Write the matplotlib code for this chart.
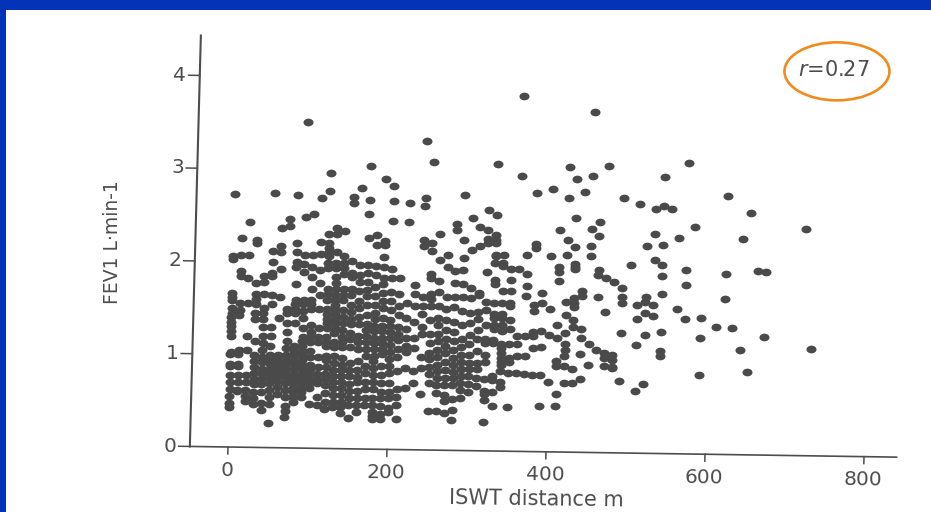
import matplotlib.pyplot as plt
from matplotlib.patches import Ellipse, Rectangle
from matplotlib.path import Path
from matplotlib.transforms import Affine2D

# ISWT distance (m) of each column of points, FEV1 values of the column below
iswt_steps = list(range(0, 600, 10)) + [610, 620, 630, 640, 650, 660, 670, 720, 730]
fev_by_step = [
    [2.73, 2.06, 2.03, 1.66, 1.62, 1.58, 1.5, 1.45, 1.4, 1.35, 1.3, 1.25, 1.2, 1.02, 1.0, 0.9, 0.87, 0.78, 0.7, 0.62, 0.55, 0.47, 0.43],
    [2.25, 2.07, 1.9, 1.85, 1.55, 1.48, 1.42, 1.05, 1.0, 0.9, 0.87, 0.78, 0.7, 0.62, 0.6],
    [2.43, 2.07, 1.83, 1.55, 1.2, 1.05, 0.78, 0.7, 0.62, 0.55, 0.5],
    [2.24, 2.2, 1.77, 1.65, 1.6, 1.55, 1.45, 1.38, 1.15, 1.0, 0.93, 0.87, 0.8, 0.74, 0.68, 0.6, 0.53, 0.47],
    [1.85, 1.78, 1.65, 1.5, 1.45, 1.38, 1.3, 1.2, 1.13, 1.05, 0.98, 0.92, 0.85, 0.8, 0.75, 0.68, 0.6, 0.48, 0.4],
    [2.74, 2.12, 2.0, 1.88, 1.85, 1.65, 1.55, 1.3, 1.2, 1.1, 1.0, 0.95, 0.9, 0.85, 0.8, 0.75, 0.7, 0.62, 0.55, 0.47, 0.27],
    [2.37, 2.18, 2.11, 1.93, 1.62, 1.4, 1.0, 0.95, 0.9, 0.87, 0.82, 0.77, 0.72, 0.65, 0.58],
    [2.47, 2.39, 1.5, 1.45, 1.35, 1.25, 1.15, 1.08, 1.0, 0.95, 0.9, 0.85, 0.8, 0.75, 0.7, 0.62, 0.55, 0.45, 0.4, 0.33],
    [2.73, 2.21, 2.11, 2.0, 1.95, 1.77, 1.6, 1.55, 1.5, 1.45, 1.35, 1.1, 1.05, 1.0, 0.95, 0.9, 0.85, 0.8, 0.75, 0.7, 0.65, 0.6, 0.55, 0.5],
    [3.52, 2.49, 2.08, 1.98, 1.9, 1.6, 1.55, 1.48, 1.4, 1.3, 1.2, 1.15, 1.1, 1.05, 1.0, 0.95, 0.9, 0.85, 0.8, 0.75, 0.7, 0.65, 0.6, 0.55],
    [2.53, 2.08, 1.95, 1.85, 1.72, 1.6, 1.55, 1.5, 1.33, 1.25, 1.2, 1.15, 1.05, 0.98, 0.9, 0.85, 0.8, 0.75, 0.7, 0.65, 0.48],
    [2.7, 2.22, 2.1, 1.92, 1.78, 1.65, 1.5, 1.3, 1.2, 1.15, 0.98, 0.88, 0.8, 0.75, 0.7, 0.55, 0.47],
    [2.97, 2.78, 2.31, 2.21, 2.16, 2.12, 2.07, 2.0, 1.95, 1.72, 1.66, 1.6, 1.5, 1.45, 1.4, 1.35, 1.3, 1.2, 1.15, 1.1, 1.0, 0.95, 0.88, 0.8, 0.75, 0.68, 0.6, 0.5, 0.43],
    [2.38, 2.31, 2.12, 2.0, 1.95, 1.85, 1.78, 1.72, 1.66, 1.6, 1.55, 1.5, 1.45, 1.4, 1.35, 1.3, 1.25, 1.15, 1.1, 1.0, 0.92, 0.85, 0.78, 0.72, 0.65, 0.58, 0.5, 0.45],
    [2.35, 2.08, 2.0, 1.95, 1.88, 1.72, 1.66, 1.6, 1.5, 1.42, 1.35, 1.28, 1.2, 1.15, 1.1, 0.98, 0.9, 0.85, 0.78, 0.72, 0.65, 0.58, 0.5, 0.45, 0.38],
    [2.71, 2.65, 2.02, 1.9, 1.85, 1.72, 1.66, 1.55, 1.48, 1.4, 1.35, 1.25, 1.18, 1.1, 0.92, 0.85, 0.78, 0.7, 0.62, 0.55, 0.47, 0.33],
    [2.81, 1.98, 1.88, 1.8, 1.7, 1.6, 1.52, 1.42, 1.35, 1.22, 1.15, 1.08, 0.95, 0.85, 0.78, 0.72, 0.62, 0.55, 0.47, 0.4],
    [3.05, 2.69, 2.53, 2.28, 1.98, 1.9, 1.8, 1.72, 1.65, 1.55, 1.45, 1.35, 1.28, 1.22, 1.15, 1.08, 1.0, 0.9, 0.82, 0.72, 0.65, 0.55, 0.47],
    [2.31, 2.2, 1.97, 1.88, 1.75, 1.65, 1.55, 1.47, 1.4, 1.33, 1.27, 1.2, 1.15, 1.08, 1.0, 0.95, 0.88, 0.8, 0.72, 0.65, 0.55, 0.48, 0.4, 0.36, 0.32],
    [2.91, 2.25, 2.2, 2.07, 1.97, 1.85, 1.78, 1.68, 1.6, 1.52, 1.42, 1.33, 1.27, 1.2, 1.15, 1.08, 1.03, 0.9, 0.8, 0.72, 0.62, 0.55, 0.47, 0.38, 0.33],
    [2.84, 2.68, 2.46, 1.95, 1.85, 1.7, 1.6, 1.5, 1.4, 1.33, 1.27, 1.2, 1.13, 1.05, 0.98, 0.9, 0.82, 0.72, 0.62, 0.55, 0.45, 0.4],
    [1.85, 1.68, 1.55, 1.45, 1.32, 1.25, 1.18, 1.08, 1.0, 0.85, 0.65, 0.57, 0.48, 0.33],
    [2.66, 2.45, 1.58, 1.42, 1.3, 1.2, 1.12, 1.05, 0.88, 0.67],
    [1.78, 1.68, 1.55, 1.38, 1.2, 1.1, 0.85, 0.72],
    [3.33, 2.72, 2.63, 2.26, 2.2, 1.65, 1.55, 1.47, 1.33, 1.25, 1.0, 0.88, 0.6],
    [3.11, 2.23, 2.15, 1.9, 1.85, 1.68, 1.63, 1.55, 1.4, 1.25, 1.15, 1.05, 0.98, 0.9, 0.82, 0.72, 0.42],
    [2.33, 2.05, 1.82, 1.7, 1.55, 1.43, 1.35, 1.25, 1.18, 1.08, 1.0, 0.92, 0.85, 0.78, 0.7, 0.62, 0.42],
    [2.1, 1.98, 1.65, 1.52, 1.4, 1.3, 1.2, 1.12, 1.05, 0.95, 0.87, 0.78, 0.7, 0.6, 0.53, 0.4],
    [2.44, 2.38, 1.93, 1.8, 1.65, 1.55, 1.38, 1.28, 1.18, 1.08, 1.0, 0.92, 0.85, 0.78, 0.7, 0.55, 0.43, 0.33],
    [2.75, 2.27, 2.08, 1.95, 1.8, 1.65, 1.5, 1.35, 1.2, 1.12, 1.03, 0.95, 0.88, 0.8, 0.73, 0.65, 0.57],
    [2.51, 2.16, 1.75, 1.65, 1.48, 1.38, 1.25, 1.15, 1.03, 0.95, 0.88, 0.8, 0.72, 0.63],
    [2.41, 2.21, 1.7, 1.68, 1.5, 1.42, 1.3, 1.2, 1.08, 0.95, 0.88, 0.78, 0.7],
    [2.6, 2.38, 2.28, 2.24, 1.93, 1.6, 1.52, 1.36, 1.21, 1.16, 1.03, 0.96, 0.77, 0.64, 0.61, 0.55, 0.31],
    [3.09, 2.54, 2.33, 2.28, 2.24, 2.11, 2.1, 2.03, 1.84, 1.8, 1.6, 1.48, 1.43, 1.36, 1.32, 1.2, 1.16, 0.81, 0.77, 0.64, 0.48],
    [2.11, 2.03, 2.0, 1.73, 1.6, 1.48, 1.43, 1.36, 1.29, 1.16, 1.11, 1.06, 1.0, 0.96, 0.93, 0.86, 0.74, 0.69],
    [1.97, 1.85, 1.73, 1.6, 1.57, 1.41, 1.32, 1.16, 1.0, 0.96, 0.84, 0.48],
    [3.83, 2.97, 1.97, 1.24, 1.16, 1.03, 0.84],
    [2.12, 1.91, 1.78, 1.68, 1.24, 1.03, 0.84],
    [2.79, 2.24, 2.19, 1.58, 1.52, 1.29, 1.25, 1.12, 0.83],
    [1.71, 1.6, 1.3, 1.13, 0.83, 0.49],
    [2.83, 2.11, 1.54, 1.26, 0.75],
    [2.39, 1.99, 1.94, 1.84, 1.37, 1.23, 0.98, 0.93, 0.63, 0.49],
    [3.07, 2.74, 2.29, 2.12, 1.62, 1.48, 1.28, 1.16, 1.1, 1.04, 0.93, 0.75],
    [2.94, 2.52, 2.21, 2.03, 2.0, 1.98, 1.66, 1.61, 1.56, 1.42, 1.35, 0.9, 0.75],
    [2.81, 1.74, 1.68, 1.33, 1.23, 1.06, 0.79],
    [3.67, 2.98, 2.41, 2.23, 2.12, 1.17, 0.94],
    [2.49, 2.33, 1.97, 1.91, 1.68, 1.11],
    [3.09, 1.88, 1.52, 1.07, 1.02, 0.93],
    [1.84, 1.05, 1.0, 0.93, 0.91],
    [2.75, 1.78, 1.68, 1.62, 1.29, 0.78],
    [2.03],
    [2.69, 1.6, 1.45, 1.17, 0.67],
    [2.23, 1.69, 1.63, 1.51, 1.27, 0.75],
    [2.63, 2.37, 2.08, 1.6, 1.48],
    [2.98, 2.67, 2.25, 2.03, 1.91, 1.72, 1.31, 1.11, 1.05],
    [2.64],
    [2.33, 1.56],
    [3.14, 1.98, 1.82, 1.45],
    [2.45],
    [1.47, 1.25, 0.85],
    [1.37],
    [2.79, 1.95, 1.68],
    [1.37],
    [2.33, 1.13],
    [2.61, 0.89],
    [1.98],
    [1.97, 1.27],
    [2.44],
    [1.15],
]
x_ticks = [0, 200, 400, 600, 800]
y_ticks = [0, 1, 2, 3, 4]

iswt = []
fev1 = []
for step, values in zip(iswt_steps, fev_by_step):
    iswt += [step] * len(values)
    fev1 += values

BLUE = "#0533b8"
INK = "#4a4a4a"
TEXT = "#4d4d4d"
ORANGE = "#f28a1c"

fig = plt.figure(figsize=(9.31, 5.12), dpi=100, facecolor=BLUE)
# zorder below the axes, or the white page hides them
fig.patches.append(Rectangle((6 / 931, 0), 925 / 931, 502 / 512, transform=fig.transFigure,
                             facecolor="white", edgecolor="none", zorder=-1))

# the axes cover the whole figure, the scanned page is slightly skewed
ax = fig.add_axes([0, 0, 1, 1])
ax.set_xlim(-228 / 0.795, 703 / 0.795)
ax.set_ylim(-65 / 92.75, 447 / 92.75)
ax.axis("off")
page = Affine2D.from_values(1, -0.00013, 3.13, 1, 0, 0) + ax.transData

# flattened dots, the slide stretched the scan sideways
dot = Path.unit_circle().transformed(Affine2D().scale(1, 0.77))
ax.scatter(iswt, fev1, s=52, marker=dot, color=INK, linewidths=0, transform=page, clip_on=False)

# axis lines and ticks
ax.plot([-48, 841], [0, 0], color=TEXT, lw=1.2, transform=page)
ax.plot([-48, -48], [0, 4.43], color=TEXT, lw=1.5, transform=page)
for t in x_ticks:
    ax.plot([t, t], [0, -0.075], color=TEXT, lw=1.1, transform=page)
    ax.text(t, -0.25, str(t), transform=page, ha="center", va="center", rotation=-0.8,
            fontsize=14.5, color=TEXT)
for t in y_ticks:
    ax.plot([-48, -62], [t, t], color=TEXT, lw=1.1, transform=page)
    ax.text(-65, t, str(t), transform=page, ha="right", va="center", fontsize=14.5, color=TEXT)

ax.text(390, -0.51, "ISWT distance m", transform=page, ha="center", va="center", rotation=-0.8,
        fontsize=15, color=TEXT)
ax.text(-152, 2.19, "FEV1 L·min-1", transform=page, ha="center", va="center", rotation=90,
        fontsize=13.5, color=TEXT)

# r value in its orange ring
ax.text(762, 4.065, "$r$=0.27", ha="center", va="center", fontsize=15, color=TEXT)
ax.add_patch(Ellipse((766, 4.05), 105 / 0.795, 58 / 92.75, facecolor="none", edgecolor=ORANGE, lw=1.9))

plt.savefig("out.png", dpi=100, facecolor=fig.get_facecolor())
